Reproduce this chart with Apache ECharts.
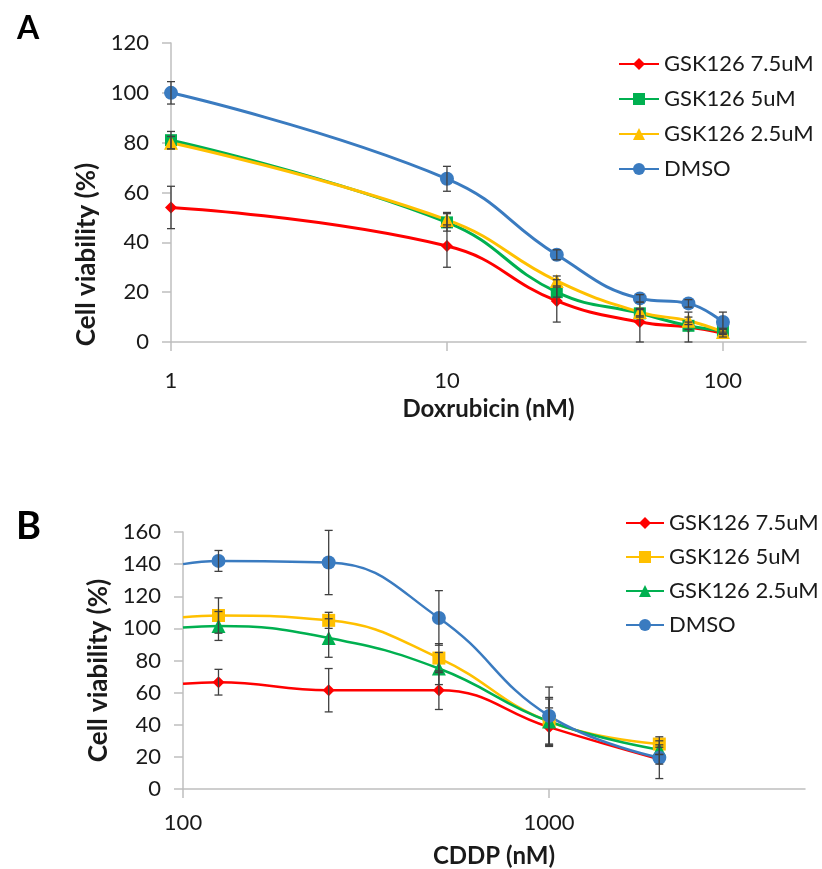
<!DOCTYPE html>
<html>
<head>
<meta charset="utf-8">
<script src="https://cdn.jsdelivr.net/npm/echarts@6/dist/echarts.min.js"></script>
<style>html,body{margin:0;padding:0;background:#fff}#c{width:822px;height:869px}</style>
</head>
<body>
<div id="c"></div>
<script>
// Panel A: Doxorubicin
const doxConc = [1, 10, 25, 50, 75, 100];
const aGsk75 = [54, 38.5, 16.5, 8, 6, 3.5];
const aGsk75Err = [8.5, 8.5, 8.5, 8, 6, 1.5];
const aGsk5 = [81, 48, 20, 11.5, 6.5, 4.5];
const aGsk5Err = [3.5, 3.5, 2, 1.5, 1.5, 1];
const aGsk25 = [80, 49, 24.5, 12, 8.5, 4];
const aGsk25Err = [2.5, 3, 2, 1.5, 1.5, 1];
const aDmso = [100, 65.5, 35, 17.5, 15.5, 8];
const aDmsoErr = [4.5, 5, 2, 1.5, 1.5, 4];
const aXTicks = [1, 10, 100];

// Panel B: CDDP (first point = curve start at axis, no marker)
const cddpConc = [100, 125, 250, 500, 1000, 2000];
const bGsk75 = [65.5, 66.5, 61.5, 61.5, 38.5, 18.5];
const bGsk75Err = [null, 8, 13.5, 12, 12, 3];
const bGsk5 = [107, 108, 105, 81.5, 42, 28];
const bGsk5Err = [null, 11, 5, 9, 15, 2];
const bGsk25 = [100.5, 101.5, 94, 75, 42, 24.5];
const bGsk25Err = [null, 9, 12, 10, 14, 3];
const bDmso = [140, 142, 141, 106.5, 45.5, 19.5];
const bDmsoErr = [null, 6.5, 20, 17, 18, 13];
const bXTicks = [100, 1000];

const seriesNamesA = ['GSK126 7.5uM', 'GSK126 5uM', 'GSK126 2.5uM', 'DMSO'];
const seriesNamesB = ['GSK126 7.5uM', 'GSK126 5uM', 'GSK126 2.5uM', 'DMSO'];

const RED = '#ff0000', GREEN = '#00b050', YELLOW = '#ffc000', BLUE = '#3a7bc0';
const FONT = 'Lato';
const TXT = '#1a1a1a';
const AX = '#bfbfbf';

function lineSeries(prefix, name, xs, ys, idx, color, symbol, size, width, hideFirst) {
  return {
    type: 'line', name: prefix + name, xAxisIndex: idx, yAxisIndex: idx,
    data: xs.map((x, i) => (hideFirst && i === 0) ? {value: [x, ys[i]], symbolSize: 0} : [x, ys[i]]),
    smooth: 0.45, symbol: symbol, symbolSize: size, showAllSymbol: true,
    lineStyle: {color: color, width: width}, itemStyle: {color: color},
    z: 3, animation: false
  };
}
function errSeries(xs, ys, errs, idx) {
  const data = [];
  xs.forEach((x, i) => { if (errs[i] != null) data.push([x, ys[i] - errs[i], ys[i] + errs[i]]); });
  return {
    type: 'custom', xAxisIndex: idx, yAxisIndex: idx, data: data, z: 4, animation: false,
    silent: true,
    encode: {x: 0, y: [1, 2]},
    renderItem: function (params, api) {
      const x = api.value(0);
      const p1 = api.coord([x, Math.max(api.value(1), 0)]);
      const p2 = api.coord([x, api.value(2)]);
      const w = 4;
      const st = {stroke: '#404040', lineWidth: 1.3};
      return {type: 'group', children: [
        {type: 'line', shape: {x1: p1[0], y1: p1[1], x2: p2[0], y2: p2[1]}, style: st},
        {type: 'line', shape: {x1: p1[0] - w, y1: p1[1], x2: p1[0] + w, y2: p1[1]}, style: st},
        {type: 'line', shape: {x1: p2[0] - w, y1: p2[1], x2: p2[0] + w, y2: p2[1]}, style: st}
      ]};
    }
  };
}
function xAxis(idx, min, max, ticks, margin, name) {
  return {
    type: 'log', gridIndex: idx, min: min, max: max, logBase: 10,
    axisLine: {lineStyle: {color: AX, width: 1.5}},
    axisTick: {show: true, length: 9, lineStyle: {color: AX, width: 1.5}, customValues: ticks},
    axisLabel: {customValues: ticks, margin: margin, fontSize: 22, color: TXT, fontFamily: FONT,
                formatter: v => String(Math.round(v))},
    splitLine: {show: false}, minorTick: {show: false},
    name: name, nameLocation: 'middle', nameGap: 55,
    nameTextStyle: {fontSize: 24, fontWeight: 'bold', color: TXT, fontFamily: FONT}
  };
}
function yAxis(idx, max, gap, pad) {
  return {
    type: 'value', gridIndex: idx, min: 0, max: max, interval: 20,
    axisLine: {show: true, lineStyle: {color: AX, width: 1.5}},
    axisTick: {show: true, length: 9, lineStyle: {color: AX, width: 1.5}},
    axisLabel: {margin: 22, fontSize: 22, color: TXT, fontFamily: FONT},
    splitLine: {show: false},
    name: 'Cell viability (%)', nameLocation: 'middle', nameGap: gap, nameRotate: 90,
    nameTextStyle: {fontSize: 26, fontWeight: 'bold', color: TXT, fontFamily: FONT, padding: pad}
  };
}

const option = {
  backgroundColor: '#fff',
  animation: false,
  title: [
    {text: 'A', left: 12, top: 8, textStyle: {fontSize: 32, fontWeight: 'bold', color: '#000', fontFamily: FONT}},
    {text: 'B', left: 11, top: 503, textStyle: {fontSize: 38, fontWeight: 'bold', color: '#000', fontFamily: FONT}}
  ],
  grid: [
    {left: 171, top: 43, width: 635, height: 299},
    {left: 183, top: 532, width: 622, height: 259}
  ],
  xAxis: [
    xAxis(0, 1, 200, aXTicks, 28, 'Doxrubicin (nM)'),
    xAxis(1, 100, 5000, bXTicks, 23, 'CDDP (nM)')
  ],
  yAxis: [
    yAxis(0, 120, 63, [0, 124, 0, 0]),
    yAxis(1, 160, 71, [0, 20, 0, 0])
  ],
  legend: [
    {data: seriesNamesA.map(n => 'A:' + n), formatter: n => n.slice(2), orient: 'vertical',
     left: 613, top: 48, itemWidth: 40, itemHeight: 15, itemGap: 13,
     textStyle: {fontSize: 22, color: TXT, fontFamily: FONT, lineHeight: 22}},
    {data: seriesNamesB.map(n => 'B:' + n), formatter: n => n.slice(2), orient: 'vertical',
     left: 620, top: 507, itemWidth: 38, itemHeight: 15, itemGap: 12,
     textStyle: {fontSize: 22, color: TXT, fontFamily: FONT, lineHeight: 22}}
  ],
  series: [
    lineSeries('A:', seriesNamesA[0], doxConc, aGsk75, 0, RED, 'diamond', 12, 3),
    lineSeries('A:', seriesNamesA[1], doxConc, aGsk5, 0, GREEN, 'rect', 12, 3),
    lineSeries('A:', seriesNamesA[2], doxConc, aGsk25, 0, YELLOW, 'triangle', 14, 3),
    lineSeries('A:', seriesNamesA[3], doxConc, aDmso, 0, BLUE, 'circle', 14, 3),
    errSeries(doxConc, aGsk75, aGsk75Err, 0),
    errSeries(doxConc, aGsk5, aGsk5Err, 0),
    errSeries(doxConc, aGsk25, aGsk25Err, 0),
    errSeries(doxConc, aDmso, aDmsoErr, 0),
    lineSeries('B:', seriesNamesB[0], cddpConc, bGsk75, 1, RED, 'diamond', 12, 2.5, true),
    lineSeries('B:', seriesNamesB[1], cddpConc, bGsk5, 1, YELLOW, 'rect', 13, 2.5, true),
    lineSeries('B:', seriesNamesB[2], cddpConc, bGsk25, 1, GREEN, 'triangle', 14, 2.5, true),
    lineSeries('B:', seriesNamesB[3], cddpConc, bDmso, 1, BLUE, 'circle', 14, 2.5, true),
    errSeries(cddpConc, bGsk75, bGsk75Err, 1),
    errSeries(cddpConc, bGsk5, bGsk5Err, 1),
    errSeries(cddpConc, bGsk25, bGsk25Err, 1),
    errSeries(cddpConc, bDmso, bDmsoErr, 1)
  ]
};
const chart = echarts.init(document.getElementById('c'), null, {renderer: 'canvas'});
chart.setOption(option);
</script>
</body>
</html>
